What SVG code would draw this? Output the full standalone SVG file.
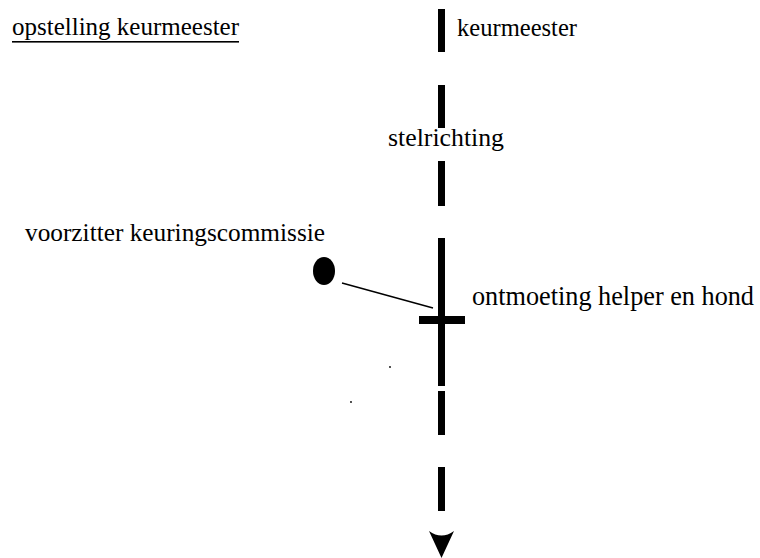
<svg xmlns="http://www.w3.org/2000/svg" width="760" height="558" viewBox="0 0 760 558">
<style>
text{font-family:'Liberation Serif','Times New Roman',serif;font-size:25px;fill:#000}
.big{font-size:26.3px}
.bar{fill:#000}
</style>
<rect width="760" height="558" fill="#fff"/>
<g id="title">
<text x="12" y="35" textLength="227" lengthAdjust="spacingAndGlyphs">opstelling keurmeester</text>
<rect x="12" y="41" width="227" height="1.6" fill="#000"/>
</g>
<g id="connectors">
<rect class="bar" x="438" y="9" width="7" height="43"/>
<rect class="bar" x="438" y="85" width="7" height="43"/>
<rect class="bar" x="438" y="161" width="7" height="45"/>
<rect class="bar" x="438" y="238" width="7" height="148"/>
<rect class="bar" x="438" y="391" width="7" height="44"/>
<rect class="bar" x="438" y="467" width="7" height="44"/>
<path class="bar" d="M429,531 Q441.5,540 454,531 L441.5,558 Z"/>
<line x1="342" y1="283" x2="433" y2="308" stroke="#000" stroke-width="1.5"/>
<circle cx="390" cy="367" r="0.9" fill="#000"/>
<circle cx="351" cy="402" r="0.9" fill="#000"/>
</g>
<g id="keurmeester">
<text x="457" y="36" textLength="120" lengthAdjust="spacingAndGlyphs">keurmeester</text>
</g>
<g id="stelrichting">
<text x="388" y="146" textLength="116" lengthAdjust="spacingAndGlyphs">stelrichting</text>
</g>
<g id="voorzitter">
<ellipse cx="324" cy="271" rx="11" ry="14" fill="#000"/>
<text x="25" y="241" textLength="300" lengthAdjust="spacingAndGlyphs">voorzitter keuringscommissie</text>
</g>
<g id="ontmoeting">
<rect class="bar" x="419" y="316" width="46" height="8"/>
<text class="big" x="472" y="305" textLength="282" lengthAdjust="spacingAndGlyphs">ontmoeting helper en hond</text>
</g>
</svg>
